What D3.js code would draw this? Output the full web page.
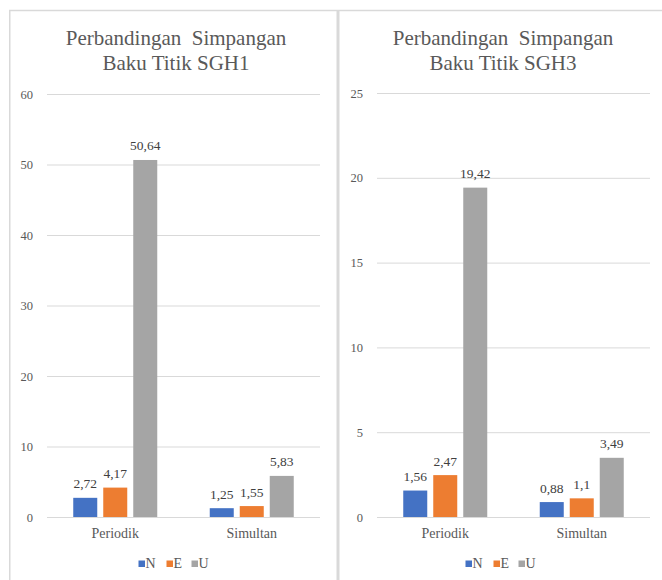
<!DOCTYPE html>
<html><head><meta charset="utf-8">
<script src="https://cdn.jsdelivr.net/npm/d3@7"></script>
<style>body{margin:0;background:#fff}svg{display:block}svg text{font-family:"Times New Roman","Liberation Serif",Tinos,serif !important}</style>
</head><body>
<svg id="c" width="662" height="580" font-family="Times New Roman"></svg>
<script>
const categories = ["Periodik", "Simultan"];
const seriesNames = ["N", "E", "U"];
const seriesColors = ["#4472C4", "#ED7D31", "#A5A5A5"];

const sgh1Title = ["Perbandingan\u00a0 Simpangan", "Baku Titik SGH1"];
const sgh1N = [2.72, 1.25];
const sgh1E = [4.17, 1.55];
const sgh1U = [50.64, 5.83];
const sgh1Ticks = [0, 10, 20, 30, 40, 50, 60];

const sgh3Title = ["Perbandingan\u00a0 Simpangan", "Baku Titik SGH3"];
const sgh3N = [1.56, 0.88];
const sgh3E = [2.47, 1.1];
const sgh3U = [19.42, 3.49];
const sgh3Ticks = [0, 5, 10, 15, 20, 25];

const svg = d3.select("#c");
const FF = "Times New Roman";

// panel borders
svg.append("line").attr("x1", 9).attr("x2", 662).attr("y1", 10.5).attr("y2", 10.5)
  .attr("stroke", "#d9d9d9").attr("stroke-width", 1.5);
svg.append("line").attr("x1", 9.75).attr("x2", 9.75).attr("y1", 10).attr("y2", 580)
  .attr("stroke", "#d9d9d9").attr("stroke-width", 1.5);
svg.append("rect").attr("x", 336.5).attr("y", 10).attr("width", 3).attr("height", 570)
  .attr("fill", "#d9d9d9");

function fmt(v) { return String(v).replace(".", ","); }

function label(parent, x, y, txt, size, color, anchor) {
  return parent.append("text").attr("x", x).attr("y", y)
    .attr("text-anchor", anchor || "middle")
    .attr("font-size", size)
    .style("font-family", FF)
    .attr("fill", color).text(txt);
}

function panel(cfg) {
  const g = svg.append("g");
  const y = d3.scaleLinear().domain([0, cfg.ticks[cfg.ticks.length - 1]]).range([517, cfg.yTop]);
  const x = d3.scaleBand().domain(categories).range([cfg.x0, cfg.x1]).padding(0);
  const xs = d3.scaleBand().domain(seriesNames).paddingInner(0.2).paddingOuter(0);

  cfg.title.forEach((t, i) => label(g, cfg.cx, 45 + i * 25, t, 21, "#595959"));

  // gridlines via axis
  const ax = d3.axisLeft(y).tickValues(cfg.ticks).tickSize(-(cfg.x1 - cfg.x0)).tickFormat("");
  const axg = g.append("g").attr("transform", `translate(${cfg.x0},0)`).call(ax);
  axg.select(".domain").remove();
  axg.selectAll(".tick line").attr("stroke", "#d9d9d9").attr("stroke-width", 1);
  axg.selectAll(".tick text").remove();
  cfg.ticks.forEach(t => label(g, cfg.x0 - 14, y(t) + 4.5, String(t), 12.5, "#595959", "end"));

  const data = [cfg.N, cfg.E, cfg.U];
  categories.forEach((c, ci) => {
    const c0 = x(c) + x.bandwidth() / 2;
    xs.range([c0 - 42, c0 + 42]);
    seriesNames.forEach((s, si) => {
      const v = data[si][ci];
      g.append("rect").attr("x", xs(s)).attr("width", xs.bandwidth())
        .attr("y", y(v)).attr("height", y(0) - y(v)).attr("fill", seriesColors[si]);
      label(g, xs(s) + xs.bandwidth() / 2, y(v) - 9.5, fmt(v), 13.5, "#404040");
    });
    label(g, c0, 538, c, 14, "#595959");
  });

  // legend
  const lg = g.append("g").attr("transform", `translate(${cfg.cx - 37.5},0)`);
  const legW = [13, 10, 14];
  let lx = 0;
  seriesNames.forEach((s, si) => {
    lg.append("rect").attr("x", lx).attr("y", 560.5).attr("width", 6.5).attr("height", 6.5)
      .attr("fill", seriesColors[si]);
    label(lg, lx + 7, 568, s, 14, "#595959", "start");
    lx += 7 + legW[si] + 8;
  });
}

panel({ title: sgh1Title, N: sgh1N, E: sgh1E, U: sgh1U, ticks: sgh1Ticks,
  x0: 47, x1: 320, yTop: 94, cx: 176 });
panel({ title: sgh3Title, N: sgh3N, E: sgh3E, U: sgh3U, ticks: sgh3Ticks,
  x0: 377, x1: 650, yTop: 93, cx: 503 });
</script>
</body></html>
